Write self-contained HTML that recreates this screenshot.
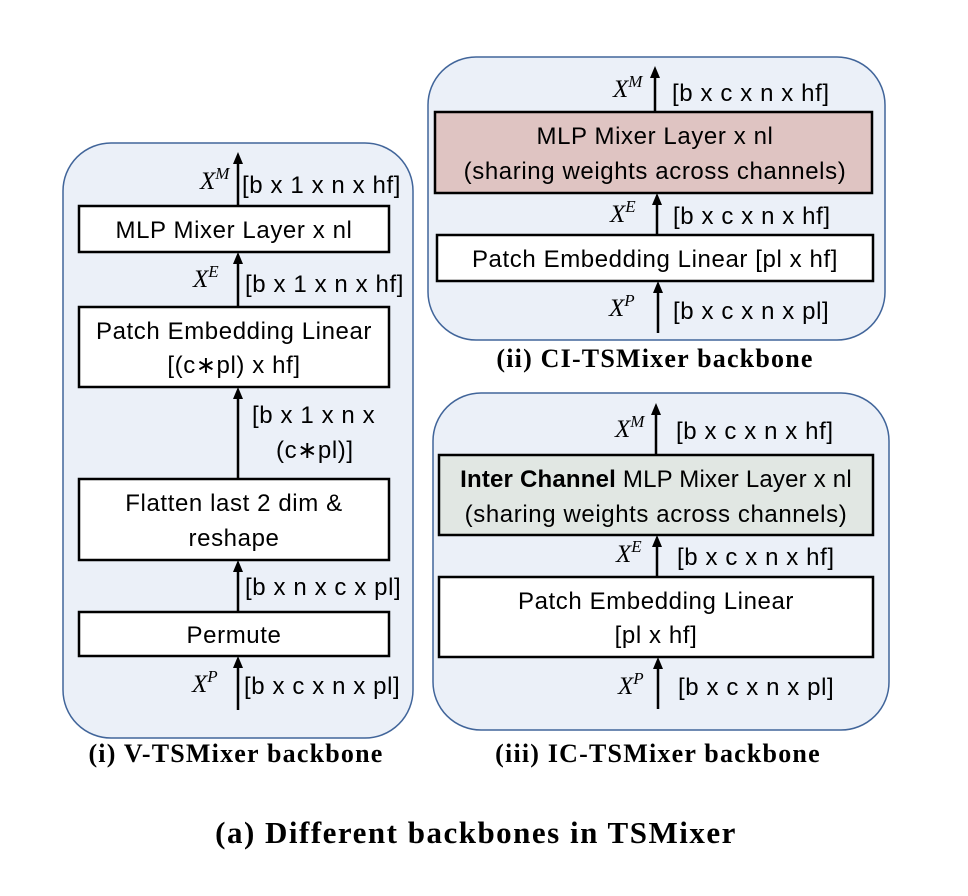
<!DOCTYPE html>
<html><head><meta charset="utf-8"><style>
body{margin:0;background:#fff}
svg{display:block}
.t{font-family:"Liberation Sans",sans-serif;font-size:24px;letter-spacing:0.6px;fill:#000}
.m{font-family:"Liberation Serif",serif;font-style:italic;font-size:25px}
.c{font-family:"Liberation Serif",serif;font-weight:bold;font-size:26px;letter-spacing:1.2px}
.p{fill:#ebf0f8;stroke:#41659a;stroke-width:1.5}
.b{stroke:#000;stroke-width:2.5}
.a{stroke:#000;stroke-width:2.5}
</style></head><body>
<svg width="968" height="896" viewBox="0 0 968 896">

<!-- Panel i -->
<g>
<rect class="p" x="63" y="143" width="350" height="595" rx="48"/>
<line class="a" x1="238" y1="710" x2="238" y2="664"/><polygon points="233,668 238,656 243,668"/>
<text class="m" x="192" y="692">X<tspan font-size="17" dy="-10">P</tspan></text>
<text class="t" x="244" y="694">[b x c x n x pl]</text>
<rect class="b" x="79" y="612" width="310" height="44" fill="#fff"/>
<text class="t" x="234" y="643" text-anchor="middle">Permute</text>
<line class="a" x1="238" y1="612" x2="238" y2="568"/><polygon points="233,572 238,560 243,572"/>
<text class="t" x="245" y="595">[b x n x c x pl]</text>
<rect class="b" x="79" y="479" width="310" height="81" fill="#fff"/>
<text class="t" x="234" y="511" text-anchor="middle">Flatten last 2 dim &amp;</text>
<text class="t" x="234" y="546" text-anchor="middle">reshape</text>
<line class="a" x1="238" y1="479" x2="238" y2="395"/><polygon points="233,399 238,387 243,399"/>
<text class="t" x="252" y="423">[b x 1 x n x</text>
<text class="t" x="276" y="458">(c∗pl)]</text>
<rect class="b" x="79" y="307" width="310" height="80" fill="#fff"/>
<text class="t" x="234" y="339" text-anchor="middle">Patch Embedding Linear</text>
<text class="t" x="234" y="373" text-anchor="middle">[(c∗pl) x hf]</text>
<line class="a" x1="238" y1="307" x2="238" y2="260"/><polygon points="233,264 238,252 243,264"/>
<text class="m" x="193" y="287">X<tspan font-size="17" dy="-10">E</tspan></text>
<text class="t" x="245" y="292">[b x 1 x n x hf]</text>
<rect class="b" x="79" y="206" width="310" height="46" fill="#fff"/>
<text class="t" x="234" y="238" text-anchor="middle">MLP Mixer Layer x nl</text>
<line class="a" x1="238" y1="206" x2="238" y2="160"/><polygon points="233,164 238,152 243,164"/>
<text class="m" x="200" y="189">X<tspan font-size="17" dy="-10">M</tspan></text>
<text class="t" x="242" y="193">[b x 1 x n x hf]</text>
</g>
<text class="c" x="236" y="762" text-anchor="middle">(i) V-TSMixer backbone</text>

<!-- Panel ii -->
<g>
<rect class="p" x="428" y="57" width="457" height="283" rx="48"/>
<line class="a" x1="658" y1="333" x2="658" y2="289"/><polygon points="653,293 658,281 663,293"/>
<text class="m" x="609" y="316">X<tspan font-size="17" dy="-10">P</tspan></text>
<text class="t" x="673" y="319">[b x c x n x pl]</text>
<rect class="b" x="437" y="235" width="436" height="46" fill="#fff"/>
<text class="t" x="655" y="267" text-anchor="middle">Patch Embedding Linear [pl x hf]</text>
<line class="a" x1="657" y1="235" x2="657" y2="201"/><polygon points="652,205 657,193 662,205"/>
<text class="m" x="610" y="222">X<tspan font-size="17" dy="-10">E</tspan></text>
<text class="t" x="673" y="224">[b x c x n x hf]</text>
<rect class="b" x="435" y="112" width="437" height="81" fill="#dfc4c2"/>
<text class="t" x="655" y="144" text-anchor="middle">MLP Mixer Layer x nl</text>
<text class="t" x="655" y="179" text-anchor="middle">(sharing weights across channels)</text>
<line class="a" x1="655" y1="112" x2="655" y2="74"/><polygon points="650,78 655,66 660,78"/>
<text class="m" x="613" y="97">X<tspan font-size="17" dy="-10">M</tspan></text>
<text class="t" x="672" y="101">[b x c x n x hf]</text>
</g>
<text class="c" x="655" y="367" text-anchor="middle">(ii) CI-TSMixer backbone</text>

<!-- Panel iii -->
<g>
<rect class="p" x="433" y="393" width="456" height="337" rx="48"/>
<line class="a" x1="658" y1="709" x2="658" y2="665"/><polygon points="653,669 658,657 663,669"/>
<text class="m" x="618" y="694">X<tspan font-size="17" dy="-10">P</tspan></text>
<text class="t" x="678" y="695">[b x c x n x pl]</text>
<rect class="b" x="439" y="577" width="434" height="80" fill="#fff"/>
<text class="t" x="656" y="609" text-anchor="middle">Patch Embedding Linear</text>
<text class="t" x="656" y="643" text-anchor="middle">[pl x hf]</text>
<line class="a" x1="657" y1="577" x2="657" y2="543"/><polygon points="652,547 657,535 662,547"/>
<text class="m" x="616" y="562">X<tspan font-size="17" dy="-10">E</tspan></text>
<text class="t" x="677" y="565">[b x c x n x hf]</text>
<rect class="b" x="439" y="455" width="434" height="80" fill="#e1e7e3"/>
<text class="t" x="656" y="487" text-anchor="middle" style="letter-spacing:0.2px"><tspan font-weight="bold">Inter Channel</tspan> MLP Mixer Layer x nl</text>
<text class="t" x="656" y="522" text-anchor="middle">(sharing weights across channels)</text>
<line class="a" x1="656" y1="455" x2="656" y2="411"/><polygon points="651,415 656,403 661,415"/>
<text class="m" x="615" y="437">X<tspan font-size="17" dy="-10">M</tspan></text>
<text class="t" x="676" y="439">[b x c x n x hf]</text>
</g>
<text class="c" x="658" y="762" text-anchor="middle">(iii) IC-TSMixer backbone</text>

<text class="c" x="476" y="843" text-anchor="middle" style="font-size:31px;letter-spacing:1.5px">(a) Different backbones in TSMixer</text>
</svg>
</body></html>
